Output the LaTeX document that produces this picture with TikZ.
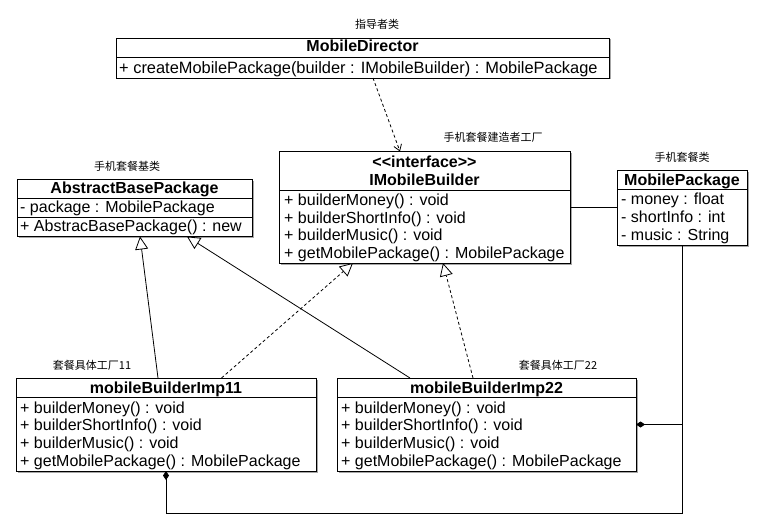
\documentclass[tikz,border=0pt]{standalone}
\usepackage{fontspec}
\setmainfont{Liberation Sans}
\newfontfamily\cjk{Noto Sans CJK SC}
\usetikzlibrary{arrows.meta,shadows,calc}
\begin{document}
\begin{tikzpicture}[x=1pt,y=-1pt,
  box/.style={draw, line width=0.9pt, fill=white, anchor=north west, inner sep=0pt, outer sep=0pt,
    drop shadow={shadow xshift=1.5pt, shadow yshift=-1.5pt, fill=black, opacity=0.35}},
  sep/.style={line width=0.9pt},
  txt/.style={anchor=base west, inner sep=0pt, font=\fontsize{16}{18}\selectfont},
  ttl/.style={anchor=base, inner sep=0pt, font=\fontsize{16}{18}\selectfont\bfseries},
  lbl/.style={anchor=center, inner sep=0pt, font=\fontsize{11}{13}\selectfont\cjk},
  conn/.style={line width=0.8pt},
  inh/.style={conn, -{Triangle[open, length=13pt, width=13pt, fill=white]}},
  real/.style={inh, dash pattern=on 3pt off 2.5pt},
  dep/.style={conn, dash pattern=on 3pt off 2.5pt, -{Straight Barb[length=6pt, width=8pt]}},
  compo/.style={conn, -{Diamond[length=9pt, width=6pt, fill=black]}}
]
\fill[white] (0,0) rectangle (762,524);
\useasboundingbox (0,0) rectangle (762,524);

% ---------- MobileDirector ----------
\node[lbl] (l-dir) at (377,24) {指导者类};
\node[box, minimum width=493pt, minimum height=40pt] (dir) at (116,38) {};
\draw[sep] ([yshift=-19pt]dir.north west) -- ([yshift=-19pt]dir.north east);
\node[ttl] (dir-t) at (362.5,52) {MobileDirector};
\node[txt, font=\fontsize{16.4}{18}\selectfont] (dir-m1) at (119,73.5) {+ createMobilePackage(builder : IMobileBuilder) : MobilePackage};

% ---------- IMobileBuilder ----------
\node[lbl] (l-ib) at (493,137) {手机套餐建造者工厂};
\node[box, minimum width=291pt, minimum height=111.5pt] (ib) at (279,151.5) {};
\draw[sep] ([yshift=-38.5pt]ib.north west) -- ([yshift=-38.5pt]ib.north east);
\node[ttl] (ib-s) at (424.5,167) {{<}{<}interface{>}{>}};
\node[ttl] (ib-t) at (424.5,185.5) {IMobileBuilder};
\node[txt] (ib-m1) at (284,205.5) {+ builderMoney() : void};
\node[txt] (ib-m2) at (284,223) {+ builderShortInfo() : void};
\node[txt] (ib-m3) at (284,240.5) {+ builderMusic() : void};
\node[txt] (ib-m4) at (284,258) {+ getMobilePackage() : MobilePackage};

% ---------- AbstractBasePackage ----------
\node[lbl] (l-abs) at (127,166) {手机套餐基类};
\node[box, minimum width=235pt, minimum height=57pt] (abs) at (17,179.5) {};
\draw[sep] ([yshift=-19pt]abs.north west) -- ([yshift=-19pt]abs.north east);
\draw[sep] ([yshift=-38pt]abs.north west) -- ([yshift=-38pt]abs.north east);
\node[ttl] (abs-t) at (134.5,193.5) {AbstractBasePackage};
\node[txt] (abs-a1) at (20,212.5) {- package : MobilePackage};
\node[txt] (abs-m1) at (20,231.5) {+ AbstracBasePackage() : new};

% ---------- MobilePackage ----------
\node[lbl] (l-mp) at (682,157) {手机套餐类};
\node[box, minimum width=130pt, minimum height=75.5pt] (mp) at (617,170) {};
\draw[sep] ([yshift=-19.5pt]mp.north west) -- ([yshift=-19.5pt]mp.north east);
\node[ttl] (mp-t) at (682,185) {MobilePackage};
\node[txt] (mp-a1) at (621,204) {- money : float};
\node[txt] (mp-a2) at (621,222.5) {- shortInfo : int};
\node[txt] (mp-a3) at (621,240.5) {- music : String};

% ---------- mobileBuilderImp11 ----------
\node[lbl] (l-i11) at (92,365) {套餐具体工厂11};
\node[box, minimum width=299.5pt, minimum height=93pt] (imp11) at (16.5,378) {};
\draw[sep] ([yshift=-19pt]imp11.north west) -- ([yshift=-19pt]imp11.north east);
\node[ttl] (i11-t) at (166,393) {mobileBuilderImp11};
\node[txt] (i11-m1) at (20,413) {+ builderMoney() : void};
\node[txt] (i11-m2) at (20,430.5) {+ builderShortInfo() : void};
\node[txt] (i11-m3) at (20,448) {+ builderMusic() : void};
\node[txt] (i11-m4) at (20,466) {+ getMobilePackage() : MobilePackage};

% ---------- mobileBuilderImp22 ----------
\node[lbl] (l-i22) at (558,365) {套餐具体工厂22};
\node[box, minimum width=299pt, minimum height=93pt] (imp22) at (337,378) {};
\draw[sep] ([yshift=-19pt]imp22.north west) -- ([yshift=-19pt]imp22.north east);
\node[ttl] (i22-t) at (486.5,393) {mobileBuilderImp22};
\node[txt] (i22-m1) at (341,413) {+ builderMoney() : void};
\node[txt] (i22-m2) at (341,430.5) {+ builderShortInfo() : void};
\node[txt] (i22-m3) at (341,448) {+ builderMusic() : void};
\node[txt] (i22-m4) at (341,466) {+ getMobilePackage() : MobilePackage};

% ---------- connectors ----------
\draw[dep] ([xshift=257pt]dir.south west) -- ([xshift=121pt]ib.north west);
\draw[inh] ([xshift=141.5pt]imp11.north west) -- ([xshift=123pt]abs.south west);
\draw[inh] ([xshift=73pt]imp22.north west) -- ([xshift=170pt]abs.south west);
\draw[real] ([xshift=205pt]imp11.north west) -- ([xshift=74pt]ib.south west);
\draw[real] ([xshift=136pt]imp22.north west) -- ([xshift=164pt]ib.south west);
\draw[conn] (ib.east) -- (ib.east -| mp.west);
\draw[compo] (mp.south) -- ($(mp.south |- imp11.south)+(0,42)$) -| ([xshift=149.5pt]imp11.south west);
\draw[compo] (mp.south |- imp22.east) -- (imp22.east);
\end{tikzpicture}
\end{document}
